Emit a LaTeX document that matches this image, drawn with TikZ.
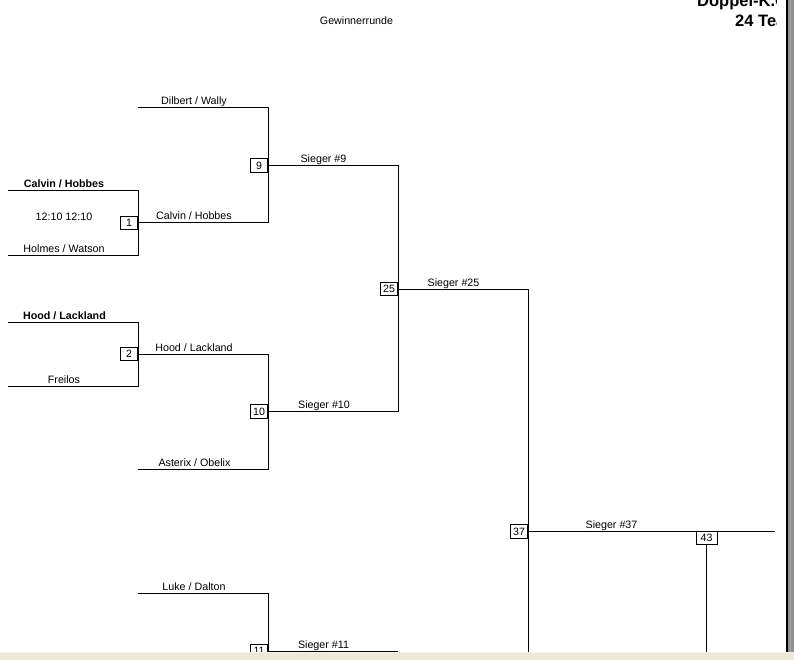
\documentclass[tikz,border=0pt]{standalone}
\usepackage{fontspec}
\setmainfont{Liberation Sans}
\begin{document}
\begin{tikzpicture}[x=1pt,y=-1pt,
  wire/.style={line width=1pt},
  lbl/.style={font=\fontsize{10.7}{12}\selectfont, anchor=base, inner sep=0pt},
  blbl/.style={font=\fontsize{10.7}{12}\selectfont\bfseries, anchor=base, inner sep=0pt},
  mbox/.style={draw, line width=1pt, fill=white, minimum width=17pt, minimum height=13.5pt,
    inner sep=0pt, font=\fontsize{10.6}{12}\selectfont, anchor=east},
  headtxt/.style={font=\fontsize{16.5}{18}\selectfont\bfseries, anchor=base west, inner sep=0pt}]
\useasboundingbox (0,0) rectangle (794,660);
\clip (0,0) rectangle (794,660);

% coordinates
\coordinate (m1a) at (8,191);   \coordinate (m1b) at (138,191);
\coordinate (m1c) at (138,255); \coordinate (m1d) at (8,255);
\coordinate (m2a) at (8,322);   \coordinate (m2b) at (138,322);
\coordinate (m2c) at (138,386); \coordinate (m2d) at (8,386);
\coordinate (w1a) at (138,223); \coordinate (w1b) at (268,223);
\coordinate (dwa) at (138,108); \coordinate (dwb) at (268,108);
\coordinate (w2a) at (138,354); \coordinate (w2b) at (268,354);
\coordinate (aoa) at (138,469); \coordinate (aob) at (268,469);
\coordinate (s9a) at (268,165.5); \coordinate (s9b) at (398,165.5);
\coordinate (s10a) at (268,411.5); \coordinate (s10b) at (398,411.5);
\coordinate (s25a) at (398,289); \coordinate (s25b) at (528,289);
\coordinate (s25c) at (528,662);
\coordinate (lda) at (138,593); \coordinate (ldb) at (268,593);
\coordinate (ldc) at (268,662);
\coordinate (s11a) at (268,651); \coordinate (s11b) at (398,651);
\coordinate (s37a) at (528,531); \coordinate (s37b) at (775,531);
\coordinate (q43) at (706.5,662);

% wires
\draw[wire] (m1a) -- (m1b) -- (m1c) -- (m1d);
\draw[wire] (m2a) -- (m2b) -- (m2c) -- (m2d);
\draw[wire] (w1a) -- (w1b);
\draw[wire] (dwa) -- (dwb) -- (w1b);
\draw[wire] (w2a) -- (w2b) -- (aob) -- (aoa);
\draw[wire] (s9a) -- (s9b) -- (s10b) -- (s10a);
\draw[wire] (s25a) -- (s25b) -- (s25c);
\draw[wire] (lda) -- (ldb) -- (ldc);
\draw[wire] (s11a) -- (s11b);
\draw[wire] (s37a) -- (s37b);

% match boxes
\node[mbox] (b1) at (138,223) {1};
\node[mbox] (b2) at (138,354) {2};
\node[mbox] (b9) at (268,165.5) {9};
\node[mbox] (b10) at (268,411.5) {10};
\node[mbox] (b11) at (268,651) {11};
\node[mbox] (b25) at (398,289) {25};
\node[mbox] (b37) at (528,531.5) {37};
\node[mbox, anchor=north, minimum width=21pt, minimum height=13pt] (b43) at (706.5,531) {43};
\draw[wire] (b43.south) -- (q43);

% labels
\node[lbl] (title) at (356.5,25) {Gewinnerrunde};
\node[blbl] (t1) at (64,188) {Calvin / Hobbes};
\node[lbl] (sc1) at (64,221) {12:10 12:10};
\node[lbl] (t2) at (64,252) {Holmes / Watson};
\node[blbl] (t3) at (64.5,319) {Hood / Lackland};
\node[lbl] (t4) at (64,383) {Freilos};
\node[lbl] (t5) at (194,105) {Dilbert / Wally};
\node[lbl] (t6) at (194,220) {Calvin / Hobbes};
\node[lbl] (t7) at (194,351) {Hood / Lackland};
\node[lbl] (t8) at (194.5,466) {Asterix / Obelix};
\node[lbl] (t9) at (194,590) {Luke / Dalton};
\node[lbl] (l9) at (323.5,162.5) {Sieger \#9};
\node[lbl] (l10) at (324,408.5) {Sieger \#10};
\node[lbl] (l25) at (453.5,286) {Sieger \#25};
\node[lbl] (l37) at (611.5,528) {Sieger \#37};
\node[lbl] (l11) at (323.5,648) {Sieger \#11};

% heading, clipped at the window edge as in the screenshot
\begin{scope}
\clip (0,0) rectangle (776,660);
\node[headtxt] (h1) at (697,6.5) {Doppel-K.O.};
\node[headtxt] (h2) at (735,27) {24 Teams};
\end{scope}

% window frame
\fill[fill={rgb,255:red,236;green,233;blue,216}] (0,652) rectangle (794,660);
\fill[fill={rgb,255:red,245;green,244;blue,238}] (0,652) rectangle (794,653.2);
\fill[black] (785.5,0) rectangle (788,652);
\fill[fill={rgb,255:red,143;green,143;blue,143}] (788,0) rectangle (794,652);
\fill[fill={rgb,255:red,170;green,170;blue,170}] (790,0) rectangle (791.2,652);
\end{tikzpicture}
\end{document}
